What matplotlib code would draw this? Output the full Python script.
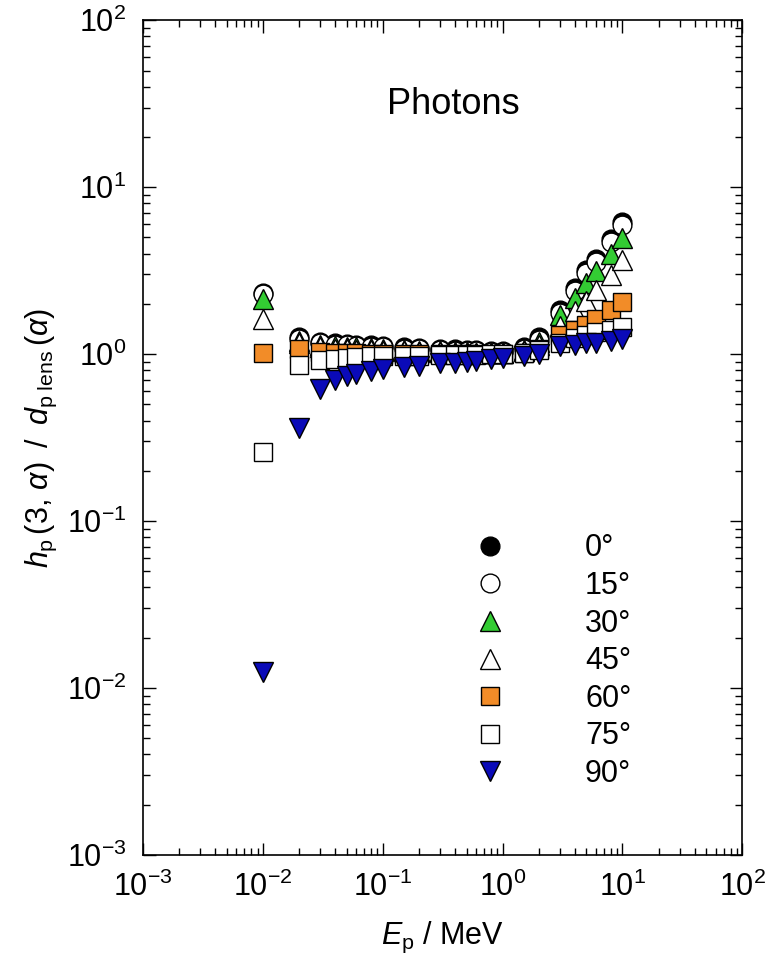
import matplotlib
matplotlib.use("Agg")
import matplotlib.pyplot as plt
from matplotlib.ticker import LogLocator, NullFormatter

plt.rcParams["font.family"] = ["Liberation Sans", "DejaVu Sans"]
plt.rcParams["mathtext.fontset"] = "custom"
plt.rcParams["mathtext.rm"] = "Liberation Sans"
plt.rcParams["mathtext.it"] = "Liberation Sans:italic"
plt.rcParams["mathtext.bf"] = "Liberation Sans:bold"

# photon energy, MeV
energy = [0.01, 0.02, 0.03, 0.04, 0.05, 0.06, 0.08, 0.1, 0.15, 0.2, 0.3, 0.4,
          0.5, 0.6, 0.8, 1, 1.5, 2, 3, 4, 5, 6, 8, 10]

# h_p(3, alpha) / d_p lens(alpha) per incidence angle
h0 = [2.32, 1.27, 1.19, 1.16, 1.15, 1.14, 1.13, 1.12, 1.10, 1.09, 1.08, 1.07,
      1.06, 1.06, 1.05, 1.05, 1.11, 1.26, 1.83, 2.50, 3.17, 3.70, 4.90, 6.15]
h15 = [2.30, 1.24, 1.17, 1.14, 1.13, 1.12, 1.11, 1.10, 1.08, 1.07, 1.06, 1.05,
       1.04, 1.04, 1.03, 1.03, 1.08, 1.22, 1.76, 2.40, 3.05, 3.55, 4.70, 5.90]
h30 = [2.15, 1.20, 1.14, 1.12, 1.11, 1.10, 1.09, 1.08, 1.06, 1.05, 1.04, 1.03,
       1.03, 1.02, 1.02, 1.02, 1.06, 1.18, 1.71, 2.16, 2.66, 3.14, 3.97, 4.95]
h45 = [1.62, 1.16, 1.10, 1.08, 1.07, 1.06, 1.06, 1.05, 1.04, 1.03, 1.03, 1.02,
       1.02, 1.01, 1.01, 1.01, 1.04, 1.14, 1.47, 1.81, 2.08, 2.42, 2.97, 3.65]
h60 = [1.01, 1.07, 1.03, 1.02, 1.01, 1.01, 1.00, 1.00, 1.00, 1.00, 1.00, 1.00,
       1.00, 1.00, 1.00, 1.00, 1.02, 1.08, 1.30, 1.40, 1.50, 1.62, 1.84, 2.05]
h75 = [0.26, 0.86, 0.92, 0.94, 0.95, 0.96, 0.97, 0.97, 0.98, 0.98, 0.99, 0.99,
       0.99, 0.99, 1.00, 1.00, 1.01, 1.06, 1.17, 1.25, 1.30, 1.35, 1.40, 1.45]
h90 = [0.0125, 0.36, 0.62, 0.70, 0.74, 0.76, 0.79, 0.81, 0.84, 0.85, 0.88, 0.89,
       0.90, 0.91, 0.93, 0.95, 0.97, 1.00, 1.12, 1.14, 1.16, 1.17, 1.20, 1.23]

labels = ["0°", "15°", "30°", "45°", "60°", "75°", "90°"]
series = [h0, h15, h30, h45, h60, h75, h90]
styles = [("o", "black"), ("o", "white"), ("^", "#33cc33"), ("^", "white"),
          ("s", "#f28c28"), ("s", "white"), ("v", "#0a0ab8")]

fig = plt.figure(figsize=(7.7, 9.66), dpi=100)
ax = fig.add_axes([0.186, 0.115, 0.778, 0.864])

for vals, lab, (mk, fc) in zip(series, labels, styles):
    ms = 14.5 if mk in "^v" else 13.5
    ax.plot(energy, vals, linestyle="none", marker=mk, markersize=ms,
            markerfacecolor=fc, markeredgecolor="black", markeredgewidth=1.0,
            label=lab)

ax.set_xscale("log")
ax.set_yscale("log")
ax.set_xlim(1e-3, 1e2)
ax.set_ylim(1e-3, 1e2)

for axis in (ax.xaxis, ax.yaxis):
    axis.set_major_locator(LogLocator(base=10, numticks=10))
    axis.set_minor_locator(LogLocator(base=10, subs=range(2, 10), numticks=10))
    axis.set_minor_formatter(NullFormatter())
ax.tick_params(which="both", direction="in", top=True, right=True, width=1.0)
ax.tick_params(which="major", length=9, labelsize=22, pad=12)
ax.tick_params(which="minor", length=5)
for sp in ax.spines.values():
    sp.set_linewidth(1.2)

ax.set_xlabel(r"$E_{\mathrm{p}}$ / MeV", fontsize=22, labelpad=12)
ax.set_ylabel(r"$h_{\mathrm{p}}\,(3,\,\alpha)\;\;/\;\;d_{\mathrm{p\ lens}}\,(\alpha)$",
              fontsize=22, labelpad=6)

ax.text(0.518, 0.899, "Photons", transform=ax.transAxes, fontsize=26,
        ha="center", va="center")

ax.legend(loc="upper left", bbox_to_anchor=(0.508, 0.40), frameon=False,
          fontsize=22, handlelength=2.0, handletextpad=2.1,
          labelspacing=0.25, borderaxespad=0)

fig.savefig("out.png", dpi=100)
